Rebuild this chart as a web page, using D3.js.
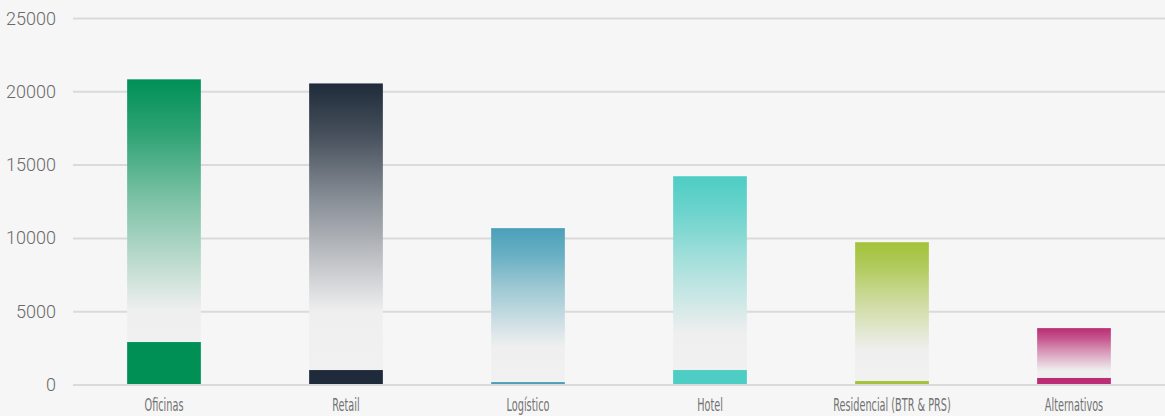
<!DOCTYPE html>
<html><head><meta charset="utf-8">
<script src="https://cdn.jsdelivr.net/npm/d3@7"></script>
<style>
html,body{margin:0;padding:0;background:#f6f6f6;}
svg{display:block;}
</style></head>
<body>
<svg id="chart" width="1165" height="416"></svg>
<script>
const categories = ["Oficinas","Retail","Logístico","Hotel","Residencial (BTR & PRS)","Alternativos"];
const totalValues = [20850, 20570, 10700, 14240, 9740, 3880];
const baseValues = [2930, 1020, 200, 1020, 270, 480];
const colors = ["#009056","#1f2b3a","#4aa0b9","#4ecdc4","#a3c23a","#bb2d74"];
const yTicks = [0, 5000, 10000, 15000, 20000, 25000];

const W = 1165, H = 416;
const m = {left: 73, right: 0, top: 18.5, bottom: 31};
const svg = d3.select("#chart");
svg.append("rect").attr("width", W).attr("height", H).attr("fill", "#f6f6f6");

const x = d3.scaleBand().domain(categories).range([m.left, W - m.right]).paddingInner(0.595).paddingOuter(0.2975);
const y = d3.scaleLinear().domain([0, 25000]).range([H - m.bottom, m.top]);

const defs = svg.append("defs");
categories.forEach((c, i) => {
  const g = defs.append("linearGradient").attr("id", "grad" + i)
    .attr("x1", 0).attr("y1", 0).attr("x2", 0).attr("y2", 1);
  g.append("stop").attr("offset", "0%").attr("stop-color", colors[i]);
  g.append("stop").attr("offset", "18%").attr("stop-color", d3.interpolateRgb(colors[i], "#efefef")(0.2));
  g.append("stop").attr("offset", "38%").attr("stop-color", d3.interpolateRgb(colors[i], "#efefef")(0.5));
  g.append("stop").attr("offset", "76%").attr("stop-color", "#efefef");
  g.append("stop").attr("offset", "100%").attr("stop-color", "#f1f1f1");
});

// grid
svg.append("g").selectAll("line").data(yTicks).join("line")
  .attr("x1", m.left).attr("x2", W)
  .attr("y1", d => y(d)).attr("y2", d => y(d))
  .attr("stroke", "#dadada").attr("stroke-width", 2);

// y labels
svg.append("g").selectAll("text").data(yTicks).join("text")
  .attr("x", 56).attr("y", d => y(d) + 6)
  .attr("text-anchor", "end")
  .attr("font-family", "Roboto, 'Noto Sans', sans-serif")
  .attr("font-weight", 300)
  .attr("font-size", 18).attr("fill", "#6a6a6a")
  .text(d => d);

// gradient bars
svg.append("g").selectAll("rect").data(categories).join("rect")
  .attr("x", d => x(d)).attr("width", x.bandwidth())
  .attr("y", (d, i) => y(totalValues[i]))
  .attr("height", (d, i) => y(0) - y(totalValues[i]) - 1)
  .attr("fill", (d, i) => `url(#grad${i})`);

// base solid bars
svg.append("g").selectAll("rect").data(categories).join("rect")
  .attr("x", d => x(d)).attr("width", x.bandwidth())
  .attr("y", (d, i) => y(baseValues[i]))
  .attr("height", (d, i) => y(0) - y(baseValues[i]) - 1)
  .attr("fill", (d, i) => colors[i]);

// x labels (condensed)
const xl = svg.append("g").selectAll("text").data(categories).join("text")
  .attr("text-anchor", "middle")
  .attr("font-family", "'Liberation Sans Narrow', 'DejaVu Sans Condensed', sans-serif")
  .attr("font-size", 17).attr("fill", "#727272")
  .text(d => d);
const natural = xl.nodes()[0].getComputedTextLength();
const sx = 39 / natural;
xl.attr("transform", d => `translate(${x(d) + x.bandwidth() / 2},411) scale(${sx},1)`);
</script>
</body></html>
